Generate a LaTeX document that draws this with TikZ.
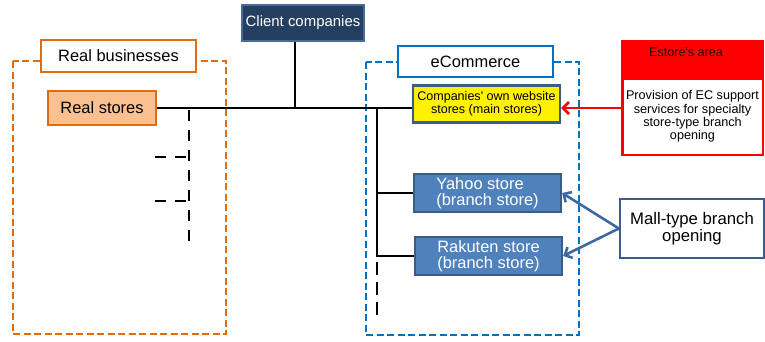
\documentclass[tikz,border=0pt]{standalone}
\usepackage{fontspec}
\setmainfont{Liberation Sans}[Ligatures=TeXOff]
\usetikzlibrary{arrows.meta}
\definecolor{orng}{HTML}{E36C09}
\definecolor{lorng}{HTML}{FAC090}
\definecolor{navy}{HTML}{243F60}
\definecolor{navyb}{HTML}{4A6A98}
\definecolor{bdr}{HTML}{385D8A}
\definecolor{midblue}{HTML}{4F81BD}
\definecolor{dblue}{HTML}{0070C0}
\definecolor{arrc}{HTML}{3F67A0}
\begin{document}
\begin{tikzpicture}[x=1bp,y=-1bp,
  box/.style={draw, rectangle, inner sep=0pt, line width=2.3bp},
  lbl/.style={font=\fontsize{16.5}{16}\selectfont},
  conn/.style={black, line width=2.4bp},
  dsh/.style={black, line width=2.4bp, dash pattern=on 11bp off 9bp},
  grp/.style={line width=2.8bp, dash pattern=on 7bp off 3.5bp},
  barb/.style={-{Straight Barb[length=6bp,width=12bp]}}
]
\useasboundingbox (0,0) rectangle (765,341);
% group frames
\draw[grp, orng] (13,61) rectangle (226,334);
\draw[grp, dblue] (366,62) rectangle (579,335);
% nodes
\node[box, draw=orng, line width=2.8bp, fill=white, minimum width=155bp, minimum height=32bp, lbl] (rb) at (118.5,56) {Real businesses};
\node[box, draw=orng, line width=2.8bp, fill=lorng, minimum width=108bp, minimum height=34bp, lbl] (rs) at (102,108) {Real stores};
\node[box, draw=navyb, line width=1.2bp, fill=navy, text=white, minimum width=122bp, minimum height=36bp, font=\fontsize{15}{15}\selectfont] (cc) at (303,23) {Client companies};
\node[box, draw=dblue, line width=2.8bp, fill=white, minimum width=155bp, minimum height=31bp, lbl] (ec) at (475.5,61.5) {eCommerce};
\node[box, draw=bdr, fill=yellow, minimum width=147bp, minimum height=37bp, align=center, font=\fontsize{12.6}{13.3}\selectfont] (ms) at (486.5,104) {Companies' own website\\stores (main stores)};
\node[box, draw=bdr, fill=midblue, text=white, minimum width=147bp, minimum height=38bp, align=left, lbl] (ya) at (487.5,193) {Yahoo store\\(branch store)};
\node[box, draw=bdr, fill=midblue, text=white, minimum width=147bp, minimum height=38bp, align=left, lbl] (ra) at (488.5,256) {Rakuten store\\(branch store)};
\node[box, draw=bdr, fill=white, minimum width=144bp, minimum height=59bp, align=center, font=\fontsize{16.8}{13.5}\selectfont] (mall) at (692,228.5) {Mall-type branch\\opening};
% Estore's area
\node[box, draw=red, fill=red, minimum width=141bp, minimum height=114bp] (es) at (692.5,98) {};
\node[fill=white, inner sep=0pt, minimum width=138bp, minimum height=74bp, align=center, font=\fontsize{12.7}{13.5}\selectfont] (prov) at (692.5,116.5) {Provision of EC support\\services for specialty\\store-type branch\\opening};
\node[font=\fontsize{12.6}{13}\selectfont, text=black!85!red, inner sep=0pt] (esl) at (686,52) {Estore's area};
% connectors
\coordinate (j1) at (295,108);
\coordinate (j2) at (377,108);
\coordinate (j3) at (189,108);
\coordinate (d1) at (189,247);
\coordinate (h1a) at (155,157);
\coordinate (h1b) at (189,157);
\coordinate (h2a) at (155,201);
\coordinate (h2b) at (189,201);
\coordinate (e1) at (377,262);
\coordinate (e2) at (377,315);
\draw[conn] (rs.east) -- (ms.west |- rs.east);
\draw[conn] (cc.south -| j1) -- (j1);
\draw[conn] (j2) -- (j2 |- ra.west) -- (ra.west);
\draw[conn] (j2 |- ya.west) -- (ya.west);
\draw[dsh] (j3) ++(0,2) -- (d1);
\draw[dsh] (h1a) -- (h1b);
\draw[dsh] (h2a) -- (h2b);
\draw[dsh, dash pattern=on 13bp off 7bp] (e1) -- (e2);
\draw[red, line width=2.6bp, barb] (es.west |- rs.east) -- (ms.east |- rs.east);
\draw[arrc, line width=2.6bp, barb] (mall.west) -- (ya.east);
\draw[arrc, line width=2.6bp, barb] (mall.west) -- (ra.east);
\end{tikzpicture}
\end{document}
